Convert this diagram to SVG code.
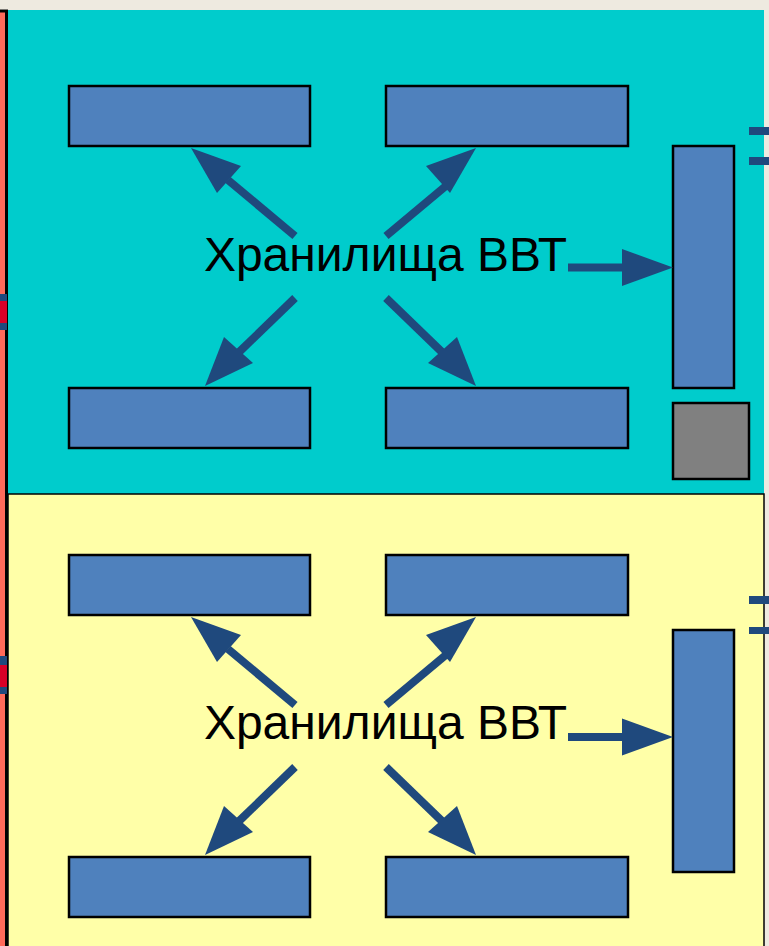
<svg xmlns="http://www.w3.org/2000/svg" width="769" height="946" viewBox="0 0 769 946">
<defs>
<style>
.box{fill:#4F81BD;stroke:#000;stroke-width:2.5}
.gray{fill:#808080;stroke:#000;stroke-width:2.5}
.shaft{stroke:#1F497D;stroke-width:8;fill:none}
.head{fill:#1F497D}
.lbl{font-family:"Liberation Sans",Arial,sans-serif;font-size:48px;fill:#000}
.mark{fill:#1F497D}
</style>
</defs>
<rect x="0" y="0" width="769" height="946" fill="#EEEAE0"/>
<!-- left red strip -->
<rect x="-4" y="11" width="10.5" height="940" fill="#FF6A5A" stroke="#000" stroke-width="3"/>
<g id="left-marks">
<rect x="0" y="294" width="7" height="7" class="mark"/>
<rect x="0" y="301" width="7" height="22" fill="#D80027"/>
<rect x="0" y="323" width="7" height="7" class="mark"/>
<rect x="0" y="656" width="7" height="9" class="mark"/>
<rect x="0" y="665" width="7" height="22" fill="#D80027"/>
<rect x="0" y="687" width="7" height="7" class="mark"/>
</g>
<!-- panels -->
<rect id="panel-top" x="8" y="10" width="756" height="484" fill="#00CCCC"/>
<rect id="panel-bottom" x="8" y="494" width="756" height="460" fill="#FFFFA8" stroke="#000" stroke-width="1.5"/>
<g id="right-marks">
<rect x="749" y="127" width="20" height="8" class="mark"/>
<rect x="749" y="157" width="20" height="8" class="mark"/>
<rect x="749" y="596" width="20" height="8" class="mark"/>
<rect x="749" y="627" width="20" height="7" class="mark"/>
</g>
<!-- top section nodes -->
<g id="t-box-tl"><rect class="box" x="69" y="86" width="241" height="60"/></g>
<g id="t-box-tr"><rect class="box" x="386" y="86" width="242" height="60"/></g>
<g id="t-box-bl"><rect class="box" x="69" y="388" width="241" height="60"/></g>
<g id="t-box-br"><rect class="box" x="386" y="388" width="242" height="60"/></g>
<g id="t-box-v"><rect class="box" x="673" y="146" width="61" height="242"/></g>
<g id="t-gray"><rect class="gray" x="673" y="403" width="76" height="76"/></g>
<g id="t-label"><text class="lbl" x="385.5" y="271" text-anchor="middle">Хранилища ВВТ</text></g>
<!-- bottom section nodes -->
<g id="b-box-tl"><rect class="box" x="69" y="555" width="241" height="60"/></g>
<g id="b-box-tr"><rect class="box" x="386" y="555" width="242" height="60"/></g>
<g id="b-box-bl"><rect class="box" x="69" y="857" width="241" height="60"/></g>
<g id="b-box-br"><rect class="box" x="386" y="857" width="242" height="60"/></g>
<g id="b-box-v"><rect class="box" x="673" y="630" width="61" height="242"/></g>
<g id="b-label"><text class="lbl" x="385.5" y="739" text-anchor="middle">Хранилища ВВТ</text></g>
<!-- connectors -->
<g id="connectors">
<g id="top-arrows">
<line class="shaft" x1="295" y1="236" x2="228" y2="180"/>
<polygon class="head" points="191,148 241,166 217,193"/>
<line class="shaft" x1="386" y1="236" x2="453" y2="180"/>
<polygon class="head" points="476,148 426,166 450,193"/>
<line class="shaft" x1="295" y1="298" x2="235" y2="356"/>
<polygon class="head" points="205,386 224,337 253,363"/>
<line class="shaft" x1="386" y1="298" x2="446" y2="356"/>
<polygon class="head" points="476,386 457,337 428,363"/>
<line class="shaft" x1="568" y1="267.5" x2="624" y2="267.5"/>
<polygon class="head" points="622,249 673,267.5 622,286"/>
</g>
<g id="bottom-arrows">
<line class="shaft" x1="295" y1="705" x2="228" y2="649"/>
<polygon class="head" points="191,617 241,635 217,662"/>
<line class="shaft" x1="386" y1="705" x2="453" y2="649"/>
<polygon class="head" points="476,617 426,635 450,662"/>
<line class="shaft" x1="295" y1="767" x2="235" y2="825"/>
<polygon class="head" points="205,855 224,806 253,832"/>
<line class="shaft" x1="386" y1="767" x2="446" y2="825"/>
<polygon class="head" points="476,855 457,806 428,832"/>
<line class="shaft" x1="568" y1="737" x2="624" y2="737"/>
<polygon class="head" points="622,718.5 673,737 622,755.5"/>
</g>
</g>
</svg>
